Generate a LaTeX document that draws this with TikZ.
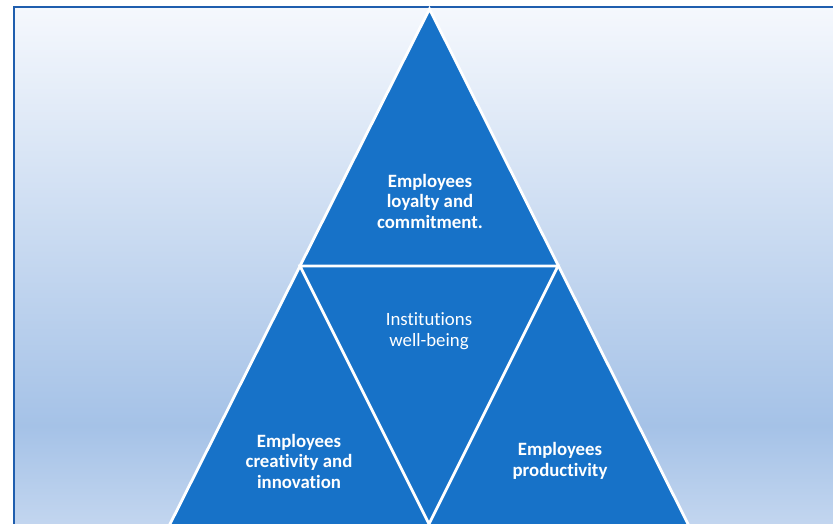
\documentclass[tikz,border=0pt]{standalone}
\usepackage{fontspec}
\setmainfont{Carlito}[Ligatures={NoCommon}]
\definecolor{tri}{HTML}{1772C8}
\definecolor{frame}{HTML}{1F5EAE}
\definecolor{bgtop}{HTML}{F5F8FD}
\definecolor{bgmid}{HTML}{A5C2E7}
\definecolor{bgbot}{HTML}{C6D8F0}
\pgfdeclareverticalshading{bgshade}{100bp}{color(0bp)=(bgbot); color(25bp)=(bgbot); color(35.5bp)=(bgmid); color(75bp)=(bgtop); color(100bp)=(bgtop)}
\tikzset{
  trifill/.style={fill=tri},
  sep/.style={draw=white, line width=2.8pt, line join=miter},
  lbl/.style={text=white, align=center, font=\fontsize{18.8}{20.5}\selectfont, inner sep=0pt},
  blbl/.style={lbl, font=\fontsize{18.8}{20.5}\selectfont\bfseries}
}
\begin{document}
\begin{tikzpicture}[x=1pt, y=-1pt]
\useasboundingbox (0,0) rectangle (833,524);
\clip (0,0) rectangle (833,524);
% background panel
\shade[shading=bgshade] (14,7) rectangle (845,537);
\draw[frame, line width=2.5pt] (14,540) -- (14,7) -- (845,7);
% coordinates
\coordinate (A) at (429.5,9);
\coordinate (L) at (300,266);
\coordinate (R) at (558,266);
\coordinate (BL) at (167,530);
\coordinate (BM) at (429,524);
\coordinate (BR) at (691,530);
% outer triangle
\fill[trifill] (A) -- (BR) -- (BL) -- cycle;
\draw[sep] (BL) -- (A) -- (BR);
% inner separators
\draw[sep] (L) -- (R) -- (BM) -- cycle;
% labels
\node[blbl] (top) at (430,201) {Employees\\loyalty and\\commitment.};
\node[lbl] (mid) at (429,331) {Institutions\\well-being};
\node[blbl] (left) at (299,461) {Employees\\creativity and\\innovation};
\node[blbl] (right) at (560,461) {Employees\\productivity};
\end{tikzpicture}
\end{document}
